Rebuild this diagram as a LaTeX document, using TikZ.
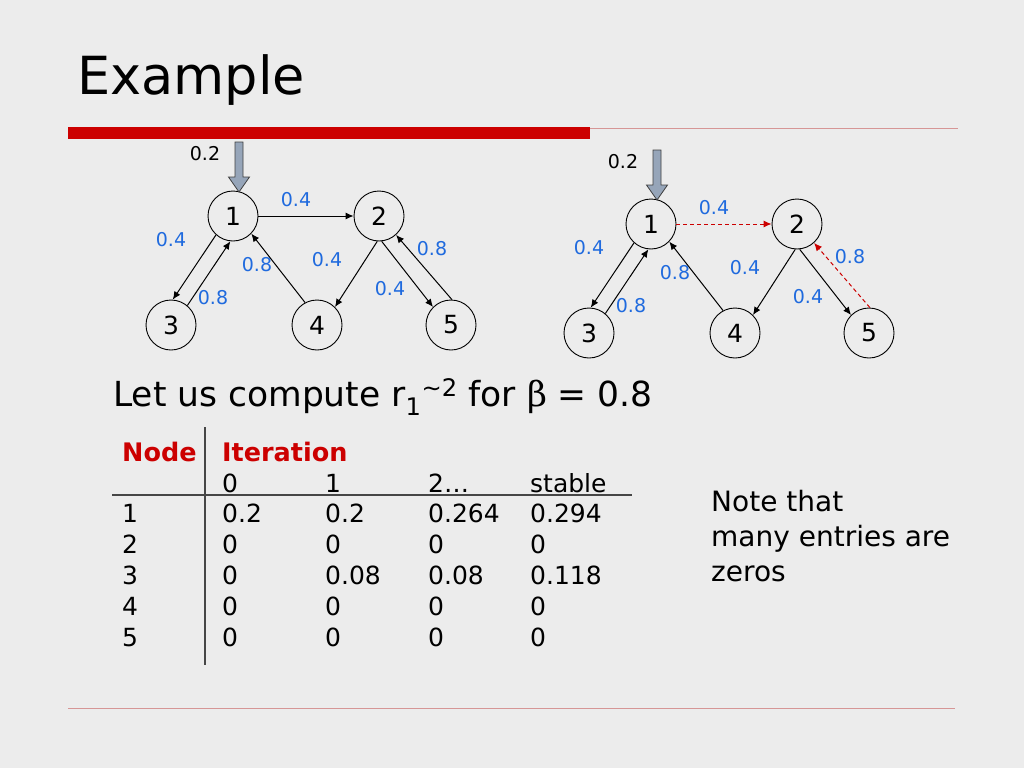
\documentclass[tikz,border=0pt]{standalone}
\usepackage{fontspec}
\setmainfont{DejaVu Sans}
\newfontfamily\greekfont{DejaVu Serif}
\usetikzlibrary{arrows.meta}

\definecolor{slidebg}{RGB}{236,236,236}
\definecolor{slidered}{RGB}{204,0,0}
\definecolor{rulepink}{RGB}{214,150,150}
\definecolor{weightblue}{RGB}{31,106,222}
\definecolor{arrowgray}{RGB}{150,165,185}
\definecolor{tablerule}{RGB}{70,70,70}

\tikzset{
    vertex/.style={circle, draw, line width=0.9pt, minimum size=50pt, inner sep=0pt, font=\fontsize{25}{25}\selectfont},
    edge/.style={-{Latex[length=8pt,width=7pt]}, line width=1pt},
    plain/.style={edge},
    changed/.style={edge, draw=slidered, dash pattern=on 4pt off 3pt},
    weight/.style={text=weightblue, inner sep=0pt, font=\fontsize{19}{19}\selectfont},
    inflow/.style={draw=black!75, line width=0.8pt, fill=arrowgray},
    txt/.style={anchor=base west, inner sep=0pt},
    cell/.style={txt, font=\fontsize{25}{25}\selectfont},
    headcell/.style={cell, text=slidered, font=\fontsize{25.5}{25}\selectfont\bfseries},
}

\begin{document}
\begin{tikzpicture}[x=1pt, y=-1pt]
    \useasboundingbox (0,0) rectangle (1024,768);
    \fill[slidebg] (0,0) rectangle (1024,768);

    % title and rules
    \node[txt, font=\fontsize{52.5}{60}\selectfont] (title) at (77,94) {Example};
    \fill[slidered] (68,127) rectangle (590,139);
    \draw[rulepink, line width=1pt] (590,128) -- (958,128);
    \draw[rulepink, line width=1pt] (68,708) -- (955,708);

    % the two graphs
    \foreach \g/\sx/\sy/\hl in {L/0/0/plain, R/418/8/changed} {
        \begin{scope}[shift={(\sx,\sy)}]
            \node[vertex] (\g1) at (233,216) {1};
            \node[vertex] (\g2) at (379,216) {2};
            \node[vertex] (\g3) at (171,325) {3};
            \node[vertex] (\g4) at (317,325) {4};
            \node[vertex] (\g5) at (451,325) {5};
            \draw[inflow] (235,142) -- (243,142) -- (243,177) -- (249.5,177) -- (239,192)
                -- (228.5,177) -- (235,177) -- cycle;
            \node[inner sep=0pt, font=\fontsize{19}{19}\selectfont] (\g in) at (205,154) {0.2};
            \draw[\hl] (\g1.0) -- (\g2.180);
            \draw[plain] (\g1.228) -- (\g3.86);
            \draw[plain] (\g3.50) -- (\g1.264);
            \draw[plain] (\g4.118) -- (\g1.316);
            \draw[plain] (\g2.266) -- (\g4.45);
            \draw[plain] (\g2.276) -- (\g5.135);
            \draw[\hl] (\g5.88) -- (\g2.312);
            \node[weight] (\g w12) at (296,200) {0.4};
            \node[weight] (\g w13) at (171,240) {0.4};
            \node[weight] (\g w41) at (257,265) {0.8};
            \node[weight] (\g w31) at (213,298) {0.8};
            \node[weight] (\g w24) at (327,260) {0.4};
            \node[weight] (\g w25) at (390,289) {0.4};
            \node[weight] (\g w52) at (432,249) {0.8};
        \end{scope}
    }

    % question
    \node[txt, font=\fontsize{34.5}{40}\selectfont] (ask) at (113,406)
        {Let us compute r\textsubscript{1}\textsuperscript{\textasciitilde2} for {\greekfont β} = 0.8};

    % table
    \node[headcell] (hnode) at (122,461) {Node};
    \node[headcell] (hiter) at (222,461) {Iteration};
    \foreach \t/\x [count=\k] in {0/222, 1/325, 2…/428, stable/530}
        \node[cell] (it\k) at (\x,492) {\t};
    \foreach \r/\a/\b/\c/\d [count=\i] in {1/0.2/0.2/0.264/0.294, 2/0/0/0/0,
            3/0/0.08/0.08/0.118, 4/0/0/0/0, 5/0/0/0/0} {
        \node[cell] (row\i) at (122,491+31*\i) {\r};
        \node[cell] (v\i a) at (222,491+31*\i) {\a};
        \node[cell] (v\i b) at (325,491+31*\i) {\b};
        \node[cell] (v\i c) at (428,491+31*\i) {\c};
        \node[cell] (v\i d) at (530,491+31*\i) {\d};
    }
    \draw[tablerule, line width=1.2pt] (205,427) -- (205,665);
    \draw[tablerule, line width=1.2pt] (112,495) -- (632,495);

    % side note
    \node[txt, align=left, font=\fontsize{28}{35}\selectfont, anchor=north west] (note) at (711,490)
        {Note that\\many entries are\\zeros};
\end{tikzpicture}
\end{document}
